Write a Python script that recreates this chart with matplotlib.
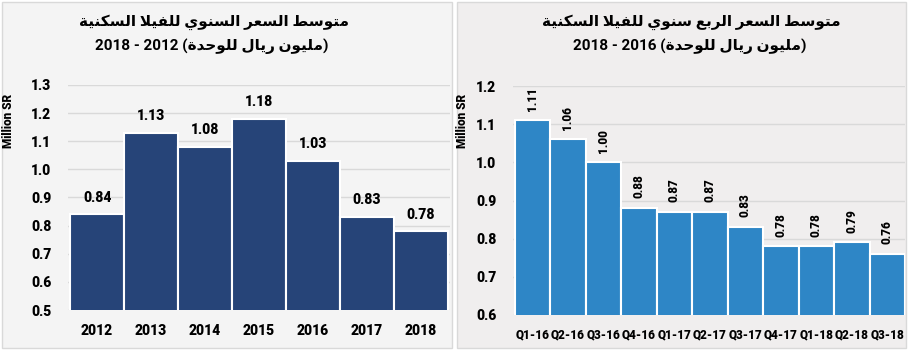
import matplotlib
matplotlib.use("Agg")
import matplotlib.pyplot as plt
from matplotlib.patches import Rectangle

# yearly average price, million SR per unit
years = ["2012", "2013", "2014", "2015", "2016", "2017", "2018"]
yearly_price = [0.84, 1.13, 1.08, 1.18, 1.03, 0.83, 0.78]

# quarterly average price, million SR per unit
quarters = ["Q1-16", "Q2-16", "Q3-16", "Q4-16", "Q1-17", "Q2-17", "Q3-17",
            "Q4-17", "Q1-18", "Q2-18", "Q3-18"]
quarterly_price = [1.11, 1.06, 1.00, 0.88, 0.87, 0.87, 0.83, 0.78, 0.78, 0.79, 0.76]

title_year = "متوسط السعر السنوي للفيلا السكنية"
title_quarter = "متوسط السعر الربع سنوي للفيلا السكنية"
unit_text = "مليون ريال للوحدة"

# minimal arabic shaping: (isolated, final, initial, medial)
FORMS = {
    "ا": ("\uFE8D", "\uFE8E", None, None),
    "ب": ("\uFE8F", "\uFE90", "\uFE91", "\uFE92"),
    "ة": ("\uFE93", "\uFE94", None, None),
    "ت": ("\uFE95", "\uFE96", "\uFE97", "\uFE98"),
    "ح": ("\uFEA1", "\uFEA2", "\uFEA3", "\uFEA4"),
    "د": ("\uFEA9", "\uFEAA", None, None),
    "ر": ("\uFEAD", "\uFEAE", None, None),
    "س": ("\uFEB1", "\uFEB2", "\uFEB3", "\uFEB4"),
    "ط": ("\uFEC1", "\uFEC2", "\uFEC3", "\uFEC4"),
    "ع": ("\uFEC9", "\uFECA", "\uFECB", "\uFECC"),
    "ف": ("\uFED1", "\uFED2", "\uFED3", "\uFED4"),
    "ك": ("\uFED9", "\uFEDA", "\uFEDB", "\uFEDC"),
    "ل": ("\uFEDD", "\uFEDE", "\uFEDF", "\uFEE0"),
    "م": ("\uFEE1", "\uFEE2", "\uFEE3", "\uFEE4"),
    "ن": ("\uFEE5", "\uFEE6", "\uFEE7", "\uFEE8"),
    "و": ("\uFEED", "\uFEEE", None, None),
    "ي": ("\uFEF1", "\uFEF2", "\uFEF3", "\uFEF4"),
    "لا": ("\uFEFB", "\uFEFC", None, None),
}


def shape(text):
    tokens = []
    i = 0
    while i < len(text):
        if text[i] == "ل" and i + 1 < len(text) and text[i + 1] == "ا":
            tokens.append("لا")
            i += 2
        else:
            tokens.append(text[i])
            i += 1

    def joins_next(t):
        return t in FORMS and FORMS[t][2] is not None

    out = []
    for k, t in enumerate(tokens):
        if t not in FORMS:
            out.append(t)
            continue
        prev = tokens[k - 1] if k > 0 else None
        nxt = tokens[k + 1] if k + 1 < len(tokens) else None
        jp = prev is not None and joins_next(prev)
        jn = joins_next(t) and nxt in FORMS
        iso, fin, ini, med = FORMS[t]
        if jp and jn:
            out.append(med)
        elif jp:
            out.append(fin)
        elif jn:
            out.append(ini)
        else:
            out.append(iso)
    return "".join(out)[::-1]


NUM_FONT = ["Roboto", "DejaVu Sans"]
AR_FONT = ["Roboto", "DejaVu Sans"]
NUM_WEIGHT = "heavy"
GRID = "#d9d9d9"

fig = plt.figure(figsize=(9.08, 3.5), dpi=100)
fig.patch.set_facecolor("white")

# panel backgrounds, kept behind the axes
left_bg = "#f4f4f4"
right_bg = "#f0eeee"
fig.patches.append(Rectangle((2 / 908, 2 / 350), 450 / 908, 346 / 350, transform=fig.transFigure,
                             facecolor=left_bg, edgecolor=GRID, lw=1, zorder=-5))
fig.patches.append(Rectangle((457 / 908, 2 / 350), 449 / 908, 346 / 350, transform=fig.transFigure,
                             facecolor=right_bg, edgecolor=GRID, lw=1, zorder=-5))

# yearly panel
ax1 = fig.add_axes([68 / 908, 1 - 310 / 350, 382 / 908, 225 / 350])
ax1.set_facecolor(left_bg)
x1 = range(len(years))
ax1.bar(x1, yearly_price, width=1.0, color="#264478", edgecolor="white", lw=1.5, zorder=3)
ax1.set_ylim(0.5, 1.3)
ax1.set_xlim(-0.54, 6.54)
ax1.set_yticks([0.5, 0.6, 0.7, 0.8, 0.9, 1.0, 1.1, 1.2, 1.3])
ax1.set_yticklabels([f"{v:.1f}" for v in ax1.get_yticks()])
ax1.set_xticks(list(x1))
ax1.set_xticklabels(years)
ax1.grid(axis="y", color=GRID, lw=1, zorder=0)
for i, v in enumerate(yearly_price):
    ax1.annotate(f"{v:.2f}", (i, v), xytext=(0, 7), textcoords="offset points",
                 ha="center", va="bottom", fontsize=10, fontweight=NUM_WEIGHT, family=NUM_FONT)
ax1.set_ylabel("Million SR", fontsize=8.5, fontweight=NUM_WEIGHT, family=NUM_FONT)
ax1.yaxis.set_label_coords(-0.139, 0.84)

# quarterly panel
ax2 = fig.add_axes([513 / 908, 1 - 315 / 350, 392 / 908, 229 / 350])
ax2.set_facecolor(right_bg)
x2 = range(len(quarters))
ax2.bar(x2, quarterly_price, width=1.0, color="#2e86c6", edgecolor="white", lw=1.5, zorder=3)
ax2.set_ylim(0.6, 1.2)
ax2.set_xlim(-0.55, 10.5)
ax2.set_yticks([0.6, 0.7, 0.8, 0.9, 1.0, 1.1, 1.2])
ax2.set_yticklabels([f"{v:.1f}" for v in ax2.get_yticks()])
ax2.set_xticks(list(x2))
ax2.set_xticklabels(quarters)
ax2.grid(axis="y", color=GRID, lw=1, zorder=0)
for i, v in enumerate(quarterly_price):
    ax2.annotate(f"{v:.2f}", (i, v), xytext=(0, 7), textcoords="offset points",
                 ha="center", va="bottom", rotation=90, fontsize=8.5, fontweight=NUM_WEIGHT,
                 family=NUM_FONT)
ax2.set_ylabel("Million SR", fontsize=8.5, fontweight=NUM_WEIGHT, family=NUM_FONT)
ax2.yaxis.set_label_coords(-0.112, 0.847)

for ax, xsize in ((ax1, 10), (ax2, 8.5)):
    for s in ax.spines.values():
        s.set_visible(False)
    ax.tick_params(length=0)
    ax.tick_params(axis="y", pad=12)
    ax.tick_params(axis="x", pad=10)
    for lab in ax.get_yticklabels():
        lab.set_fontsize(10)
        lab.set_fontweight(NUM_WEIGHT)
        lab.set_family(NUM_FONT)
    for lab in ax.get_xticklabels():
        lab.set_fontsize(xsize)
        lab.set_fontweight(NUM_WEIGHT)
        lab.set_family(NUM_FONT)

# titles
fig.text(214 / 908, 1 - 22 / 350, shape(title_year), ha="center", va="center",
         fontsize=11, fontweight="bold", family=AR_FONT)
fig.text(212 / 908, 1 - 46 / 350, "2018 - 2012 (" + shape(unit_text) + ")", ha="center",
         va="center", fontsize=11, fontweight="bold", family=AR_FONT)
fig.text(691 / 908, 1 - 22 / 350, shape(title_quarter), ha="center", va="center",
         fontsize=11, fontweight="bold", family=AR_FONT)
fig.text(690 / 908, 1 - 46 / 350, "2018 - 2016 (" + shape(unit_text) + ")", ha="center",
         va="center", fontsize=11, fontweight="bold", family=AR_FONT)

fig.savefig("out.png", dpi=100, facecolor=fig.get_facecolor())
